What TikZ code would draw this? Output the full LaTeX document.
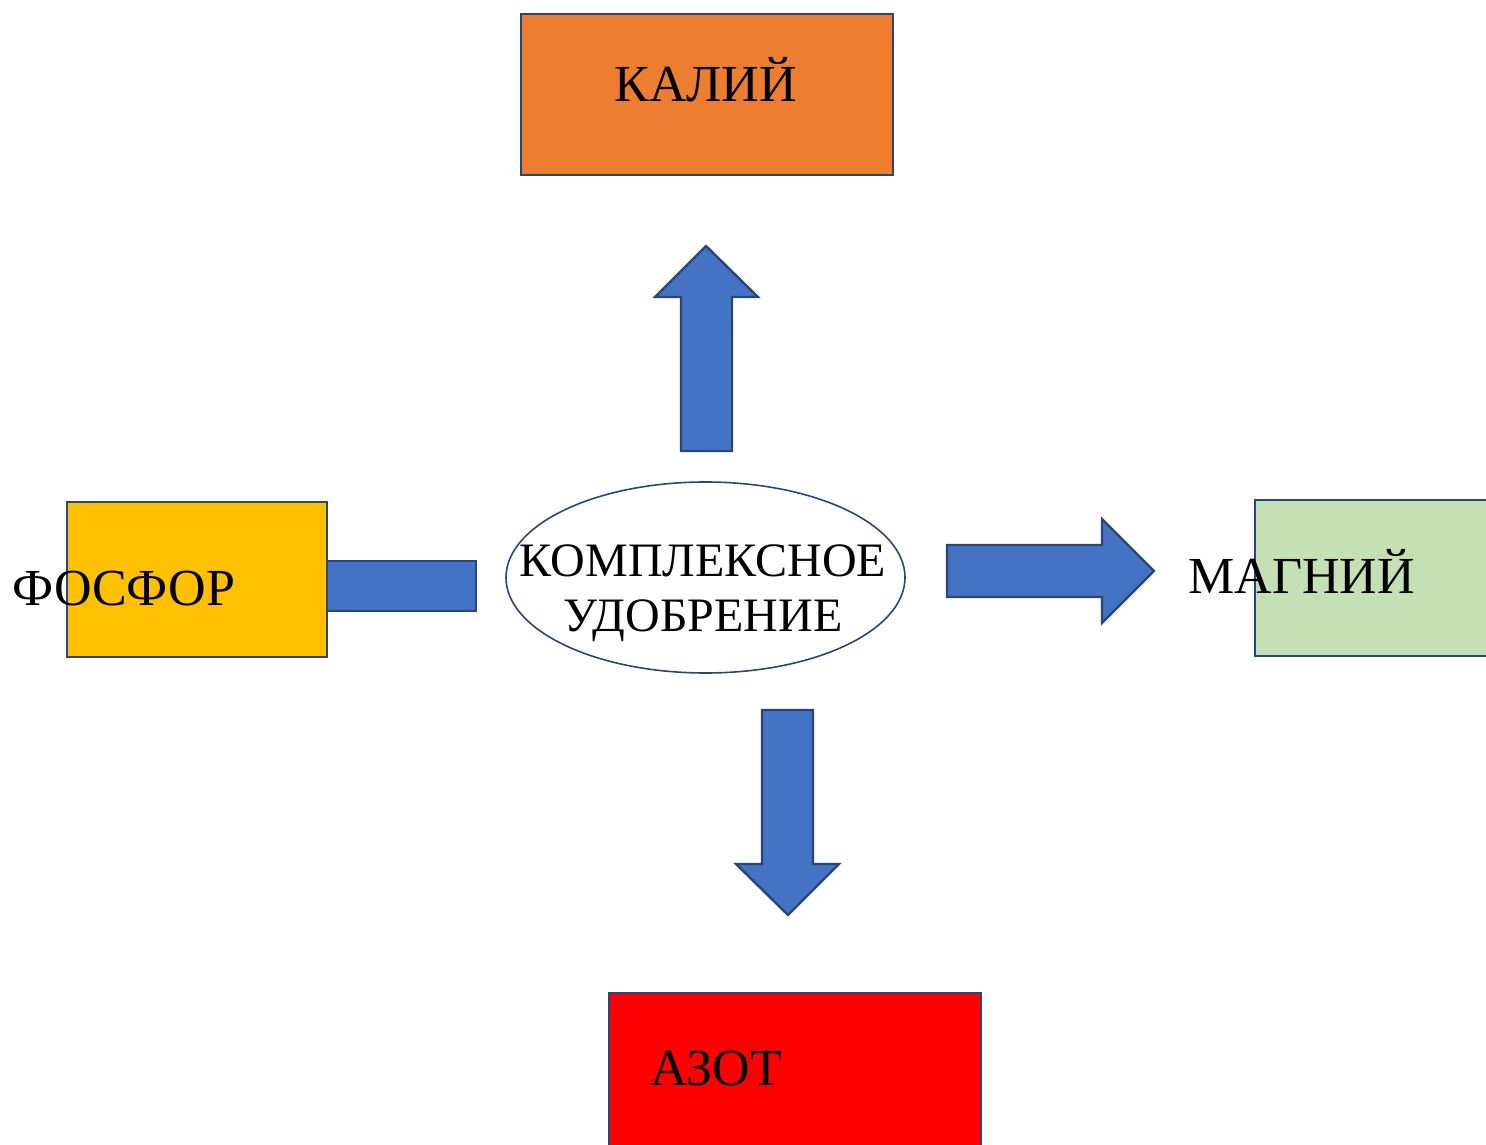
\documentclass[tikz,border=0pt]{standalone}
\usepackage{fontspec}
\setmainfont{Liberation Serif}
\usepackage{tikz}
\usetikzlibrary{positioning,shapes}

\definecolor{rim}{HTML}{2A4677}
\definecolor{arrblue}{HTML}{4472C4}
\definecolor{kalicol}{HTML}{ED7D31}
\definecolor{fosfcol}{HTML}{FFC000}
\definecolor{magncol}{HTML}{C5E0B4}
\definecolor{azotcol}{HTML}{FF0000}

\tikzset{
  box/.style={draw=rim, line width=1.1pt, inner sep=0pt},
  txt/.style={anchor=base west, inner sep=0pt, font=\fontsize{26}{30}\selectfont},
  fat/.style={draw=rim, fill=arrblue, line width=1.2pt, line join=miter}
}

\begin{document}
\begin{tikzpicture} [x=0.5pt,y=-0.5pt]

  \clip (0,0) rectangle (1486,1144);

  % wide block arrows
  \draw[fat] (327,561) rectangle (476,611);
  \draw[fat] (681,451) -- (681,297) -- (655,297) -- (706,246) -- (758,297) -- (732,297) -- (732,451) -- cycle;
  \draw[fat] (947,545) -- (1102,545) -- (1102,519) -- (1154,571) -- (1102,623) -- (1102,597) -- (947,597) -- cycle;
  \draw[fat] (762,710) -- (813,710) -- (813,864) -- (839,864) -- (788,915) -- (736,864) -- (762,864) -- cycle;

  \node[box, fill=kalicol, minimum width=186pt, minimum height=80.5pt] (kali) at (707,94.5) {};
  \node[box, fill=fosfcol, minimum width=130pt, minimum height=77.5pt] (fosf) at (197,579.5) {};
  \node[box, fill=magncol, minimum width=130pt, minimum height=78pt] (magn) at (1385,578) {};
  \node[box, fill=azotcol, minimum width=186pt, minimum height=80.5pt] (azot) at (795,1073.5) {};
  \node[ellipse, draw=rim, line width=0.8pt, inner sep=0pt, minimum width=199.5pt, minimum height=95.5pt] (udobr) at (705.5,577.5) {};

  \node[txt] (kali-t) at (614,102) {КАЛИЙ};
  \node[txt] (fosf-t) at (12,605) {ФОСФОР};
  \node[txt] (magn-t) at (1188,593) {МАГНИЙ};
  \node[txt] (azot-t) at (650,1085) {АЗОТ};
  \node[txt, anchor=base, font=\fontsize{24}{28}\selectfont] (udobr-t1) at (703,576) {КОМПЛЕКСНОЕ};
  \node[txt, anchor=base, font=\fontsize{24}{28}\selectfont] (udobr-t2) at (703,631) {УДОБРЕНИЕ};

\end{tikzpicture}
\end{document}
